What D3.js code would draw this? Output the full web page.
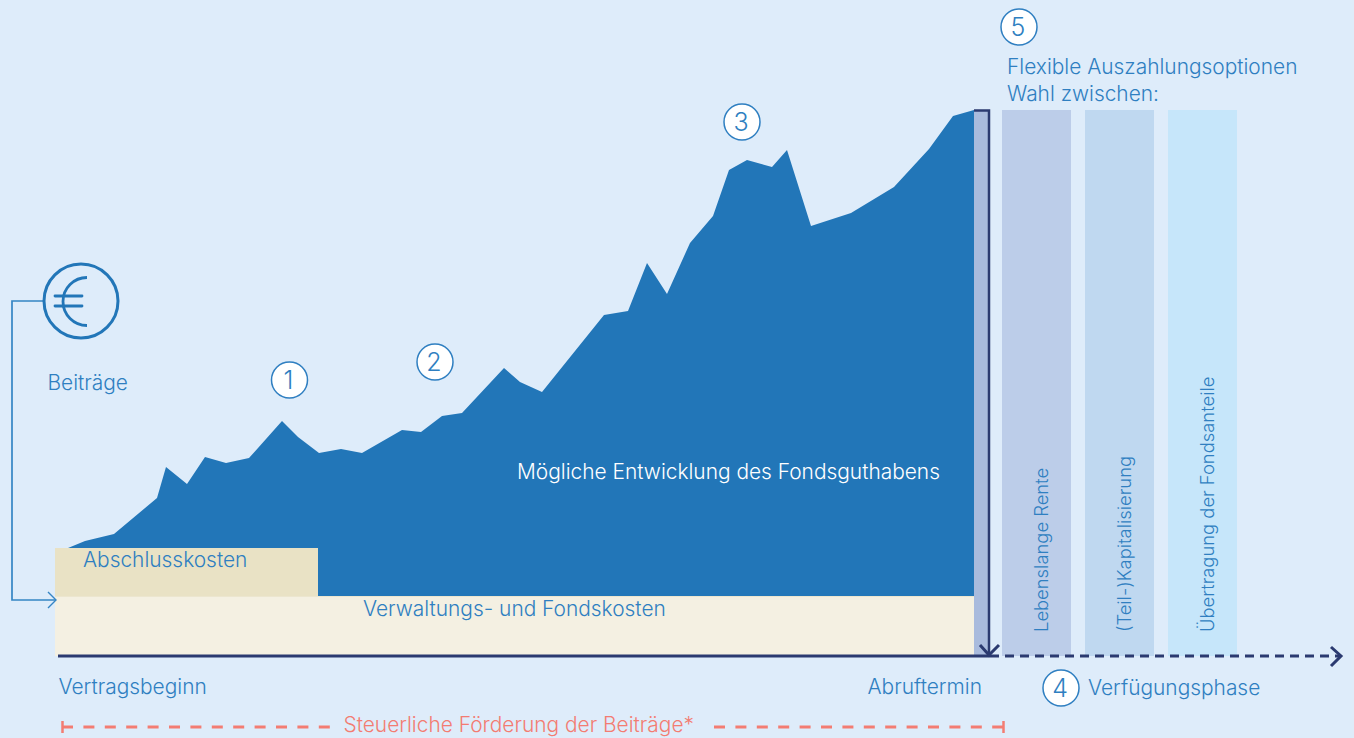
<!DOCTYPE html>
<html>
<head>
  <script src="https://d3js.org/d3.v7.min.js"></script>
  <style>
    body { margin: 0; background: #deecfa; overflow: hidden; }
    svg { display: block; }
    text { font-family: Inter, "Noto Sans", sans-serif; font-weight: 300; font-size: 20.9px; fill: #2f7fc1; }
  </style>
</head>
<body>
  <div id="chart"></div>
  <script>
    // contract progress and fund value
    const progress = [13, 30, 59, 102, 111, 132, 150, 171, 194, 227, 243, 264, 286, 307, 347, 366, 387, 407, 449, 465, 487, 549, 573, 592, 612, 635, 658, 674, 692, 717, 732, 756, 796, 839, 874, 898, 919];
    const fundValue = [49, 56, 63, 99, 130, 113, 140, 134, 139, 176, 160, 144, 148, 144, 167, 165, 181, 184, 229, 215, 205, 282, 286, 334, 303, 354, 381, 427, 437, 430, 447, 371, 384, 410, 448, 481, 487];

    const costLabels = ["Abschlusskosten", "Verwaltungs- und Fondskosten"];
    const optionLabels = ["Lebenslange Rente", "(Teil-)Kapitalisierung", "Übertragung der Fondsanteile"];
    const optionColors = ["#bccde9", "#bfd8f0", "#c6e6fa"];
    const markers = ["1", "2", "3", "4", "5"];

    const width = 1354, height = 738;
    const blue = "#2276b8", text = "#2f7fc1", navy = "#2b3a70", red = "#f37c72";

    const svg = d3.select("#chart").append("svg")
      .attr("width", width)
      .attr("height", height);

    const x = d3.scaleLinear().domain([0, 919]).range([55, 974]);
    const y = d3.scaleLinear().domain([0, 487]).range([597, 110]);

    /* COST BLOCKS AND FUND AREA */
    const area = d3.area()
      .x((d, i) => x(progress[i]))
      .y0(y(0))
      .y1(d => y(d));

    svg.append("path")
      .attr("d", area(fundValue))
      .attr("fill", blue);

    svg.append("rect")
      .attr("x", x(0)).attr("y", y(49))
      .attr("width", 263).attr("height", y(0) - y(49))
      .attr("fill", "#e9e2c5");

    svg.append("rect")
      .attr("x", x(0)).attr("y", y(0) - 1)
      .attr("width", 919).attr("height", 60)
      .attr("fill", "#f4f0e2");

    svg.append("line")
      .attr("x1", x(0)).attr("x2", x(919)).attr("y1", y(0) - 0.5).attr("y2", y(0) - 0.5)
      .attr("stroke", "#ece6cf").attr("stroke-width", 1);

    /* PAYOUT BARS */
    svg.append("rect")
      .attr("x", 974).attr("y", 110)
      .attr("width", 15).attr("height", 546)
      .attr("fill", "#a9bbdd");

    const bars = d3.scaleOrdinal().domain(optionLabels).range([1002, 1085, 1168]);

    svg.selectAll(".option")
      .data(optionLabels)
      .enter()
      .append("rect")
        .attr("class", "option")
        .attr("x", d => bars(d))
        .attr("y", 110)
        .attr("width", 69)
        .attr("height", 546)
        .attr("fill", (d, i) => optionColors[i]);

    svg.selectAll(".optionLabel")
      .data(optionLabels)
      .enter()
      .append("text")
        .attr("class", "optionLabel")
        .attr("transform", d => `translate(${bars(d) + 46},632) rotate(-90)`)
        .style("font-size", "18.4px")
        .text(d => d);

    /* TIME AXIS */
    svg.append("line")
      .attr("x1", 58).attr("x2", 990).attr("y1", 656).attr("y2", 656)
      .attr("stroke", navy).attr("stroke-width", 3);

    svg.append("line")
      .attr("x1", 990).attr("x2", 1340).attr("y1", 656).attr("y2", 656)
      .attr("stroke", navy).attr("stroke-width", 3)
      .attr("stroke-dasharray", "9 6");

    const chevron = d3.line();

    svg.append("path")
      .attr("d", chevron([[1331, 647], [1341, 656], [1331, 666]]))
      .attr("fill", "none").attr("stroke", navy).attr("stroke-width", 3);

    svg.append("path")
      .attr("d", chevron([[974, 110.5], [989, 110.5], [989, 655]]))
      .attr("fill", "none").attr("stroke", navy).attr("stroke-width", 2.5);

    svg.append("path")
      .attr("d", chevron([[980, 645], [989, 655], [999, 645]]))
      .attr("fill", "none").attr("stroke", navy).attr("stroke-width", 3);

    /* CONTRIBUTIONS */
    svg.append("path")
      .attr("d", chevron([[43, 301], [12, 301], [12, 600], [56, 600]]))
      .attr("fill", "none").attr("stroke", "#3585c4").attr("stroke-width", 1.7);

    svg.append("path")
      .attr("d", chevron([[48, 592], [56, 600], [48, 608]]))
      .attr("fill", "none").attr("stroke", "#3585c4").attr("stroke-width", 1.4);

    svg.append("circle")
      .attr("cx", 81).attr("cy", 301).attr("r", 37)
      .attr("fill", "none").attr("stroke", blue).attr("stroke-width", 3);

    const euroArc = d3.arc()
      .innerRadius(24).outerRadius(24)
      .startAngle(-Math.PI).endAngle(0);

    svg.append("path")
      .attr("transform", "translate(87,301.5)")
      .attr("d", euroArc())
      .attr("fill", "none").attr("stroke", blue).attr("stroke-width", 2.8).attr("stroke-linecap", "round");

    svg.selectAll(".euroBar")
      .data([296, 306])
      .enter()
      .append("line")
        .attr("class", "euroBar")
        .attr("x1", 55).attr("x2", 82)
        .attr("y1", d => d).attr("y2", d => d)
        .attr("stroke", blue).attr("stroke-width", 2.8).attr("stroke-linecap", "round");

    /* FOERDERUNG BRACKET */
    svg.selectAll(".foerderung")
      .data([[62, 330], [714, 1004]])
      .enter()
      .append("line")
        .attr("class", "foerderung")
        .attr("x1", d => d[0]).attr("x2", d => d[1])
        .attr("y1", 727).attr("y2", 727)
        .attr("stroke", red).attr("stroke-width", 2.8)
        .attr("stroke-dasharray", "11 10.4");

    svg.selectAll(".foerderungEnd")
      .data([62.5, 1003.5])
      .enter()
      .append("line")
        .attr("class", "foerderungEnd")
        .attr("x1", d => d).attr("x2", d => d)
        .attr("y1", 721).attr("y2", 733)
        .attr("stroke", red).attr("stroke-width", 2.5);

    /* NUMBER MARKERS */
    const markerX = d3.scaleOrdinal().domain(markers).range([289.5, 435, 742, 1061, 1019]);
    const markerY = d3.scaleOrdinal().domain(markers).range([380, 362, 122, 688, 27]);

    svg.selectAll(".marker")
      .data(markers)
      .enter()
      .append("circle")
        .attr("class", "marker")
        .attr("cx", d => markerX(d))
        .attr("cy", d => markerY(d))
        .attr("r", 18)
        .attr("fill", "#ffffff")
        .attr("stroke", text)
        .attr("stroke-width", 1.5);

    svg.selectAll(".markerText")
      .data(markers)
      .enter()
      .append("text")
        .attr("class", "markerText")
        .attr("x", d => markerX(d) - 1)
        .attr("y", d => markerY(d) + 9)
        .attr("text-anchor", "middle")
        .style("font-size", "25px")
        .text(d => d);

    /* LABELS */
    const labels = [
      ["Beiträge", 47.5, 390],
      [costLabels[0], 83, 567],
      [costLabels[1], 363, 616],
      ["Vertragsbeginn", 58.5, 694],
      ["Abruftermin", 867.5, 694],
      ["Verfügungsphase", 1088, 695],
      ["Flexible Auszahlungsoptionen", 1007, 74],
      ["Wahl zwischen:", 1007, 101],
      ["Steuerliche Förderung der Beiträge*", 343.5, 732]
    ];

    svg.selectAll(".label")
      .data(labels)
      .enter()
      .append("text")
        .attr("class", "label")
        .attr("x", d => d[1])
        .attr("y", d => d[2])
        .style("fill", d => d[0].startsWith("Steuerliche") ? red : text)
        .text(d => d[0]);

    svg.append("text")
      .attr("x", 517).attr("y", 479)
      .style("fill", "#ffffff")
      .text("Mögliche Entwicklung des Fondsguthabens");
  </script>
</body>
</html>
